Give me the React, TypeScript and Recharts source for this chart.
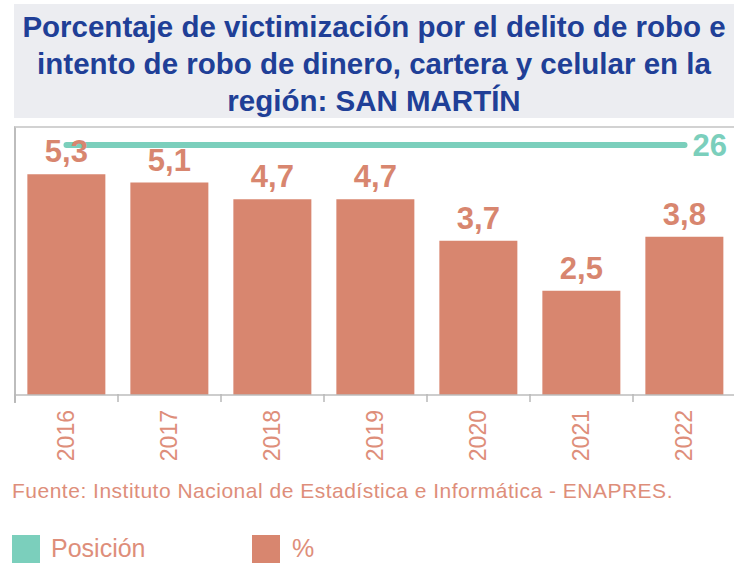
import React from "react";
import { ComposedChart, Bar, Line, XAxis, YAxis, LabelList } from "recharts";

const years = ["2016", "2017", "2018", "2019", "2020", "2021", "2022"];
const pct = [5.3, 5.1, 4.7, 4.7, 3.7, 2.5, 3.8];
const posicion = [26, 26, 26, 26, 26, 26, 26];

const data = years.map((year, i) => ({ year, pct: pct[i], posicion: posicion[i] }));

const FONT = '"Liberation Sans", Arial, sans-serif';
const SALMON = "#D8866F";
const SALMON_TEXT = "#DE8E7A";
const TEAL = "#7BCFBC";
const BLUE = "#203F97";

const CHART_W = 740;
const MARGIN = { top: 25, left: 15, right: 4, bottom: 0 };
const BAND = (CHART_W - MARGIN.left - MARGIN.right) / years.length;

function YearTick(props: any) {
  const { x, y, payload, index } = props;
  const left = x - BAND / 2;
  return (
    <g>
      <line x1={left} y1={y - 8} x2={left} y2={y} stroke="#b8b8b8" strokeWidth={1.5} />
      {index === years.length - 1 && (
        <line x1={left + BAND} y1={y - 8} x2={left + BAND} y2={y} stroke="#b8b8b8" strokeWidth={1.5} />
      )}
      <text
        transform={`translate(${x - 1},${y + 8}) rotate(-90)`}
        textAnchor="end"
        dy="0.36em"
        fontSize={23}
        fontFamily={FONT}
        fill={SALMON_TEXT}
      >
        {payload.value}
      </text>
    </g>
  );
}

function LastLabel(props: any) {
  const { x, y, value, index } = props;
  if (index !== posicion.length - 1) return null;
  return (
    <text x={x + 8} y={y} dy="0.36em" fontSize={31} fontWeight="bold" fontFamily={FONT} fill={TEAL}>
      {value}
    </text>
  );
}

export default function App() {
  return (
    <div
      style={{
        position: "absolute",
        left: 0,
        top: 0,
        width: 734,
        height: 563,
        overflow: "hidden",
        background: "#fff",
        fontFamily: FONT,
      }}
    >
      <div
        style={{
          position: "absolute",
          left: 14,
          top: 4,
          width: 720,
          height: 114,
          background: "#ECEDF1",
          color: BLUE,
          fontWeight: "bold",
          fontSize: 29.5,
          lineHeight: "37px",
          textAlign: "center",
          whiteSpace: "nowrap",
          paddingTop: 4,
          boxSizing: "border-box",
        }}
      >
        Porcentaje de victimización por el delito de robo e
        <br />
        intento de robo de dinero, cartera y celular en la
        <br />
        región: SAN MARTÍN
      </div>

      <div
        style={{
          position: "absolute",
          left: 14,
          top: 126,
          width: 720,
          height: 277,
          borderTop: "2px solid #d2d2d2",
          borderLeft: "2px solid #bdbdbd",
          boxSizing: "border-box",
        }}
      />

      <div style={{ position: "absolute", left: 0, top: 120 }}>
        <ComposedChart width={CHART_W} height={350} data={data} margin={MARGIN} barCategoryGap="12%">
          <XAxis
            dataKey="year"
            height={75}
            axisLine={{ stroke: "#bdbdbd", strokeWidth: 1.5 }}
            tickLine={false}
            tickSize={7}
            tickMargin={0}
            interval={0}
            tick={<YearTick />}
          />
          <YAxis yAxisId="left" hide domain={[0, 6]} />
          <YAxis yAxisId="right" orientation="right" hide domain={[0, 26]} />
          <Bar yAxisId="left" dataKey="pct" fill={SALMON} isAnimationActive={false}>
            <LabelList
              dataKey="pct"
              position="top"
              offset={12}
              formatter={(v: any) => Number(v).toFixed(1).replace(".", ",")}
              fill={SALMON}
              fontSize={31}
              fontWeight="bold"
              fontFamily={FONT}
            />
          </Bar>
          <Line
            yAxisId="right"
            dataKey="posicion"
            stroke={TEAL}
            strokeWidth={6}
            strokeLinecap="round"
            dot={false}
            activeDot={false}
            isAnimationActive={false}
          >
            <LabelList dataKey="posicion" content={<LastLabel />} />
          </Line>
        </ComposedChart>
      </div>

      <div
        style={{
          position: "absolute",
          left: 12,
          top: 479,
          fontSize: 21,
          letterSpacing: 0.5,
          lineHeight: "23px",
          color: SALMON_TEXT,
          whiteSpace: "nowrap",
        }}
      >
        Fuente: Instituto Nacional de Estadística e Informática - ENAPRES.
      </div>

      <div style={{ position: "absolute", left: 12, top: 535, width: 28, height: 28, background: TEAL }} />
      <div
        style={{ position: "absolute", left: 51, top: 537, fontSize: 25, lineHeight: "22px", color: SALMON_TEXT }}
      >
        Posición
      </div>
      <div style={{ position: "absolute", left: 252, top: 535, width: 28, height: 28, background: SALMON }} />
      <div
        style={{ position: "absolute", left: 292, top: 537, fontSize: 25, lineHeight: "22px", color: SALMON_TEXT }}
      >
        %
      </div>
    </div>
  );
}
